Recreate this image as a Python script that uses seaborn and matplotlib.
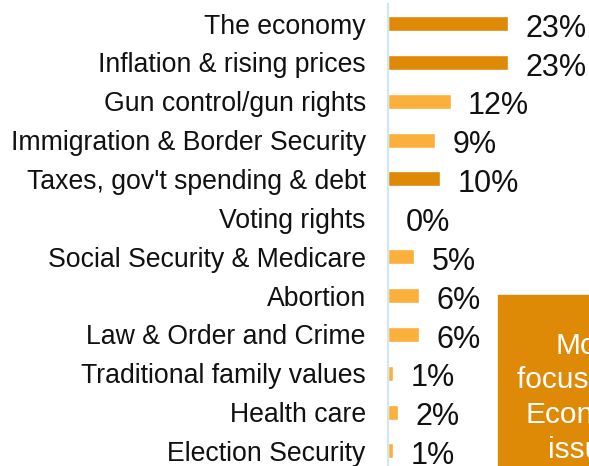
import matplotlib
matplotlib.use("Agg")
import matplotlib.pyplot as plt
import seaborn as sns
import pandas as pd
from matplotlib.patches import Rectangle

categories = [
    "The economy",
    "Inflation & rising prices",
    "Gun control/gun rights",
    "Immigration & Border Security",
    "Taxes, gov't spending & debt",
    "Voting rights",
    "Social Security & Medicare",
    "Abortion",
    "Law & Order and Crime",
    "Traditional family values",
    "Health care",
    "Election Security",
]
values = [23, 23, 12, 9, 10, 0, 5, 6, 6, 1, 2, 1]
economic = [True, True, False, False, True, False, False, False, False, False, False, False]
value_labels = ["23%", "23%", "12%", "9%", "10%", "0%", "5%", "6%", "6%", "1%", "2%", "1%"]
box_lines = ["Most", "focused on", "Economic", "issues"]

DARK = "#DE8A06"
LIGHT = "#FBB03B"
colors = [DARK if e else LIGHT for e in economic]

sns.set_theme(style="white")
plt.rcParams["font.family"] = ["Liberation Sans", "DejaVu Sans"]

df = pd.DataFrame({"category": categories, "value": values})

fig = plt.figure(figsize=(5.89, 4.66), dpi=100)
W, H = 589, 466
ax_left, ax_top, ax_bottom = 388, 4.1, 470.4
x_right = 589
ax = fig.add_axes([ax_left / W, (H - ax_bottom) / H, (x_right - ax_left) / W, (ax_bottom - ax_top) / H])

sns.barplot(data=df, y="category", x="value", hue="category", palette=colors,
            order=categories, hue_order=categories, legend=False, width=0.386,
            ax=ax, saturation=1)

px_per_pct = 5.22
ax.set_xlim(0, (x_right - ax_left) / px_per_pct)
ax.set_ylim(len(categories) - 0.5, -0.5)
ax.set_xlabel("")
ax.set_ylabel("")
ax.set_xticks([])
for s in ["top", "right", "bottom"]:
    ax.spines[s].set_visible(False)
ax.spines["left"].set_color("#CFE6F5")
ax.spines["left"].set_linewidth(1.5)
ax.tick_params(axis="y", length=0, pad=16, labelsize=19.2, labelcolor="#111111")

for i, (v, lab) in enumerate(zip(values, value_labels)):
    ax.annotate(lab, xy=(v, i), xytext=(12.5, -1.2), textcoords="offset points",
                ha="left", va="center_baseline", fontsize=22, color="#111111")

# callout box
fig.patches.append(Rectangle((498 / W, 0), 200 / W, (H - 295) / H,
                             transform=fig.transFigure, color=DARK, zorder=5))
line_x = [556, 517, 525, 548]
line_y = [343, 377, 412, 447]
for t, x, y in zip(box_lines, line_x, line_y):
    fig.text(x / W, (H - y) / H, t, ha="left", va="center_baseline",
             fontsize=21.5, color="white", zorder=6)

fig.savefig("out.png", dpi=100)
